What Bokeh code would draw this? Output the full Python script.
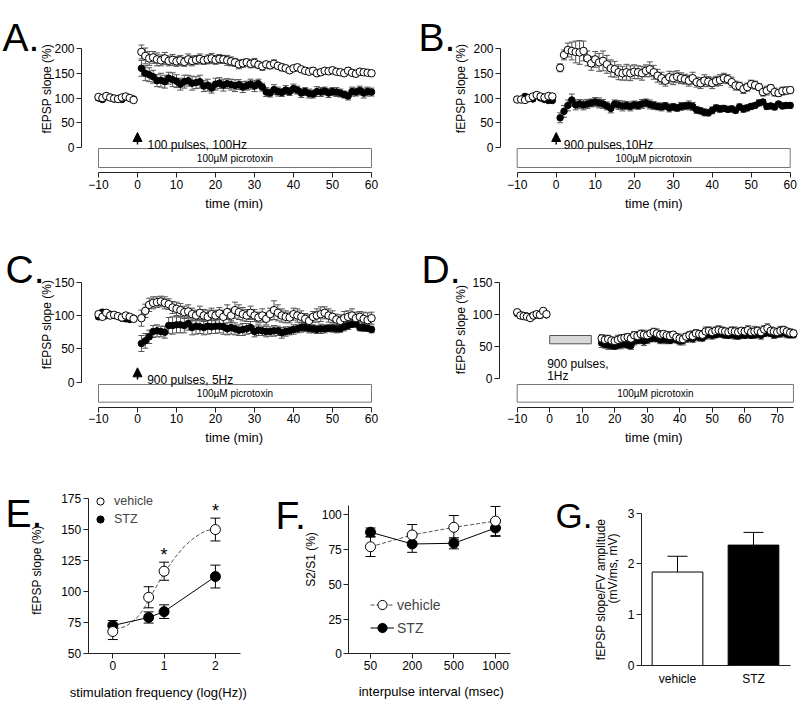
from bokeh.plotting import figure
from bokeh.layouts import column, row
from bokeh.models import (ColumnDataSource, Whisker, TeeHead, BoxAnnotation, Arrow,
                          NormalHead, Label, Legend, LegendItem, FixedTicker, Range1d)
from bokeh.core.properties import value
from bokeh.embed import file_html
from bokeh.resources import INLINE

FONT = "Liberation Sans"
AX = "#222222"
ERR = "#555555"

# ---------------- data ----------------
TC_time = list(range(-10, 0)) + list(range(1, 61))
D_time = list(range(-10, 0)) + list(range(16, 76))

A_veh = [102, 100, 104, 101, 99, 98, 101, 103, 100, 96,
         193, 185, 180, 182, 178, 176, 180, 175, 177, 174,
         176, 173, 178, 175, 177, 179, 176, 178, 180, 177,
         179, 178, 176, 174, 172, 168, 170, 172, 169, 171,
         167, 164, 168, 166, 169, 165, 162, 160, 156, 160,
         162, 158, 155, 153, 155, 150, 152, 155, 154, 156,
         153, 152, 150, 155, 151, 149, 153, 152, 151, 150]
A_veh_err = [4, 3, 4, 3, 3, 4, 3, 4, 3, 4,
             14, 16, 14, 12, 13, 11, 12, 10, 11, 10,
             10, 9, 11, 10, 9, 10, 8, 9, 10, 9,
             9, 8, 10, 9, 8, 9, 8, 7, 8, 9,
             7, 8, 6, 7, 8, 6, 7, 6, 5, 6,
             6, 5, 6, 5, 6, 5, 6, 5, 5, 6,
             5, 6, 5, 6, 5, 6, 5, 6, 5, 5]
A_stz = [100, 97, 103, 101, 98, 99, 97, 102, 100, 98,
         160, 150, 147, 143, 135, 136, 133, 140, 137, 134,
         128, 133, 135, 130, 131, 133, 124, 126, 120, 128,
         130, 126, 129, 127, 125, 127, 122, 125, 128, 124,
         129, 122, 112, 110, 117, 113, 111, 116, 113, 119,
         116, 110, 113, 109, 108, 113, 112, 114, 110, 113,
         112, 110, 107, 104, 113, 112, 115, 110, 113, 112]
A_stz_err = [5, 4, 4, 3, 4, 3, 4, 3, 4, 3,
             16, 15, 14, 13, 12, 14, 13, 12, 14, 13,
             12, 13, 11, 14, 12, 13, 11, 12, 10, 12,
             11, 12, 10, 11, 12, 10, 11, 9, 10, 11,
             9, 8, 9, 8, 10, 9, 8, 9, 8, 9,
             8, 9, 8, 9, 8, 10, 9, 8, 9, 8,
             9, 8, 7, 8, 9, 8, 9, 10, 9, 8]

B_veh = [97, 97, 96, 100, 103, 106, 103, 101, 104, 103,
         161, 187, 197, 195, 193, 192, 195, 180, 170, 178,
         172, 175, 168, 160, 158, 152, 150, 152, 150, 153,
         152, 150, 155, 158, 152, 145, 140, 135, 142, 140,
         143, 140, 138, 135, 140, 132, 130, 135, 133, 130,
         134, 136, 140, 138, 132, 125, 124, 118, 122, 128,
         126, 122, 112, 115, 120, 112, 110, 114, 115, 116]
B_veh_err = [5, 4, 5, 4, 4, 5, 4, 5, 4, 5,
             8, 10, 14, 18, 22, 24, 20, 15, 14, 16,
             18, 20, 18, 17, 16, 15, 14, 16, 15, 14,
             13, 14, 12, 15, 14, 13, 12, 11, 12, 13,
             12, 11, 10, 11, 12, 10, 11, 12, 10, 11,
             10, 11, 10, 9, 10, 9, 8, 9, 8, 8,
             8, 7, 8, 9, 7, 8, 7, 8, 7, 6]
B_stz = [97, 97, 103, 100, 98, 106, 100, 97, 95, 95,
         60, 73, 85, 96, 86, 88, 86, 88, 90, 92,
         90, 88, 84, 79, 88, 86, 84, 85, 83, 86,
         85, 88, 90, 87, 85, 83, 82, 84, 80, 82,
         80, 83, 84, 85, 83, 76, 74, 71, 70, 75,
         80, 78, 79, 77, 78, 75, 82, 78, 80, 83,
         85, 90, 92, 83, 84, 82, 88, 84, 85, 85]
B_stz_err = [4, 4, 5, 4, 4, 5, 4, 3, 3, 3,
             10, 12, 11, 12, 10, 9, 10, 9, 8, 9,
             10, 9, 8, 9, 8, 9, 10, 8, 9, 8,
             8, 9, 8, 9, 8, 7, 8, 7, 8, 7,
             7, 8, 7, 9, 8, 7, 6, 7, 6, 7,
             6, 7, 6, 5, 6, 5, 6, 7, 6, 6,
             5, 6, 5, 6, 5, 6, 5, 6, 5, 5]

C_veh = [102, 98, 104, 100, 101, 99, 97, 100, 98, 95,
         96, 107, 116, 119, 120, 121, 119, 117, 112, 110,
         108, 105, 106, 102, 100, 104, 100, 98, 102, 100,
         103, 98, 105, 100, 108, 105, 102, 100, 104, 100,
         97, 100, 95, 102, 108, 104, 100, 98, 97, 102,
         100, 98, 95, 92, 98, 100, 102, 104, 100, 98,
         94, 92, 96, 98, 100, 96, 98, 95, 93, 96]
C_veh_err = [3, 4, 3, 4, 3, 3, 4, 3, 3, 3,
             12, 10, 10, 9, 8, 8, 9, 8, 9, 10,
             10, 9, 10, 9, 8, 10, 9, 10, 9, 8,
             9, 10, 11, 10, 12, 11, 10, 9, 10, 9,
             8, 10, 9, 9, 14, 12, 10, 9, 8, 9,
             10, 9, 8, 9, 8, 10, 11, 9, 10, 9,
             8, 9, 10, 9, 10, 9, 8, 10, 11, 9]
C_stz = [98, 105, 100, 102, 100, 99, 96, 95, 94, 96,
         58, 62, 68, 76, 77, 76, 75, 85, 85, 86,
         86, 85, 88, 82, 84, 83, 82, 84, 83, 84,
         84, 83, 80, 82, 80, 78, 79, 80, 82, 76,
         78, 77, 76, 76, 77, 77, 74, 76, 77, 79,
         80, 82, 82, 81, 80, 79, 80, 80, 81, 81,
         80, 80, 83, 85, 87, 88, 82, 82, 81, 79]
C_stz_err = [3, 4, 3, 3, 4, 3, 3, 4, 3, 3,
             12, 11, 10, 9, 9, 8, 9, 12, 13, 12,
             12, 11, 10, 11, 12, 10, 11, 12, 10, 11,
             10, 11, 9, 10, 9, 8, 9, 8, 9, 8,
             8, 7, 8, 7, 8, 7, 8, 7, 6, 7,
             6, 7, 6, 7, 6, 6, 7, 6, 5, 6,
             6, 5, 6, 6, 5, 6, 5, 6, 5, 5]

D_veh = [103, 98, 97, 96, 94, 98, 100, 99, 105, 100,
         62, 60, 61, 59, 58, 60, 62, 63, 64, 62,
         67, 66, 69, 68, 67, 70, 72, 70, 68, 69,
         67, 66, 68, 64, 62, 61, 65, 67, 66, 70,
         69, 68, 73, 74, 72, 74, 75, 74, 73, 72,
         74, 73, 72, 74, 73, 75, 72, 73, 74, 72,
         76, 78, 74, 73, 72, 74, 75, 73, 71, 70]
D_veh_err = [3, 3, 4, 3, 3, 4, 3, 3, 4, 3,
             6, 7, 6, 5, 6, 7, 6, 5, 6, 7,
             6, 5, 6, 7, 6, 5, 6, 7, 6, 5,
             6, 7, 5, 6, 7, 6, 5, 6, 8, 6,
             5, 6, 7, 6, 5, 6, 7, 6, 5, 6,
             6, 7, 6, 5, 6, 7, 6, 8, 6, 5,
             6, 7, 6, 5, 6, 7, 6, 5, 6, 5]
D_stz = [101, 99, 98, 97, 96, 97, 100, 98, 102, 99,
         55, 53, 52, 51, 50, 52, 53, 54, 52, 51,
         58, 59, 60, 58, 60, 62, 63, 62, 60, 61,
         60, 59, 62, 60, 58, 59, 62, 63, 62, 65,
         64, 63, 67, 68, 67, 68, 70, 69, 68, 67,
         68, 67, 66, 68, 67, 69, 67, 68, 69, 67,
         70, 72, 70, 68, 69, 70, 71, 69, 68, 68]
D_stz_err = [3, 4, 3, 3, 4, 3, 3, 4, 3, 3,
             7, 6, 7, 6, 5, 6, 7, 6, 5, 6,
             6, 5, 6, 7, 6, 5, 6, 5, 6, 7,
             6, 5, 6, 5, 6, 7, 6, 5, 6, 5,
             6, 5, 6, 5, 6, 5, 6, 5, 6, 5,
             5, 6, 5, 6, 5, 6, 5, 6, 5, 6,
             5, 6, 5, 6, 5, 6, 5, 6, 5, 5]

E_x = [0, 0.699, 1, 2]
E_veh = [68, 95.6, 116.6, 150.2]
E_veh_err = [6.5, 8.5, 7.3, 9.2]
E_stz = [72.8, 79.3, 84, 112.3]
E_stz_err = [4, 4.5, 5.5, 9.2]
E_fit_x = [0.05, 0.25, 0.45, 0.6, 0.75, 0.9, 1.05, 1.2, 1.4, 1.6, 1.8, 2.0]
E_fit_y = [70, 72, 78, 86, 97, 108, 118, 127, 137, 144, 149, 151]
E_star_x = [1, 2]
E_star_y = [129.5, 165.5]

F_labels = ["50", "200", "500", "1000"]
F_veh = [77, 85.5, 91, 95.5]
F_veh_err = [7, 7.5, 8.5, 10.5]
F_stz = [87.5, 79, 79.5, 90.5]
F_stz_err = [3, 6, 4, 6]

G_labels = ["vehicle", "STZ"]
G_vals = [1.84, 2.37]
G_err = [0.31, 0.25]
G_colors = ["white", "black"]


# ---------------- layout geometry (page pixels) ----------------
class Geo:
    """Canvas box on the page and the pixel scale of its data axes."""
    def __init__(self, left, top, w, h, xref, xpage, xscale, yref, ypage, yscale):
        self.left, self.top, self.w, self.h = left, top, w, h
        self.xref, self.xpage, self.xs = xref, xpage, xscale
        self.yref, self.ypage, self.ys = yref, ypage, yscale

    def x(self, px):
        return self.xref + (px - self.xpage) / self.xs

    def y(self, py):
        return self.yref + (self.ypage - py) / self.ys

    def xr(self):
        return (self.x(self.left), self.x(self.left + self.w))

    def yr(self):
        return (self.y(self.top + self.h), self.y(self.top))


def make_fig(g, yaxis_px, xaxis_px):
    xr, yr = g.xr(), g.yr()
    p = figure(width=g.w, height=g.h, x_range=Range1d(*xr), y_range=Range1d(*yr),
               output_backend="svg", toolbar_location=None,
               min_border_left=0, min_border_right=0, min_border_top=0, min_border_bottom=0)
    p.outline_line_color = None
    p.xgrid.grid_line_color = None
    p.ygrid.grid_line_color = None
    p.yaxis.fixed_location = g.x(yaxis_px)
    p.xaxis.fixed_location = g.y(xaxis_px)
    for ax in (p.xaxis[0], p.yaxis[0]):
        ax.axis_line_color = AX
        ax.major_tick_line_color = AX
        ax.minor_tick_line_color = None
        ax.major_tick_in = 0
        ax.major_tick_out = 5
        ax.major_label_standoff = 2
        ax.major_label_text_font = FONT
        ax.major_label_text_font_size = "12px"
        ax.major_label_text_font_style = "normal"
        ax.major_label_text_color = "black"
    return p


def add_text(p, g, text, px, py, size="12px", angle=0, align="left", baseline="alphabetic"):
    p.add_layout(Label(x=g.x(px), y=g.y(py), text=text, text_font=FONT,
                       text_font_size=size, text_font_style="normal",
                       angle=angle, angle_units="deg",
                       text_align=align, text_baseline=baseline, text_color="black"))


def err_src(x, vals, errs):
    return ColumnDataSource(dict(x=x, y=vals,
                                 lo=[v - e for v, e in zip(vals, errs)],
                                 hi=[v + e for v, e in zip(vals, errs)]))


def add_whisker(p, src, color, head, both=True):
    p.add_layout(Whisker(source=src, base="x", lower="lo" if both else "y", upper="hi",
                         line_color=color, line_width=1,
                         lower_head=TeeHead(size=head, line_color=color, line_width=1) if both else None,
                         upper_head=TeeHead(size=head, line_color=color, line_width=1)))


def timecourse(g, yaxis_px, xaxis_px, xb, yb, xticks, yticks, t, veh, veh_err, stz, stz_err):
    p = make_fig(g, yaxis_px, xaxis_px)
    p.xaxis.bounds = xb
    p.yaxis.bounds = yb
    p.xaxis.ticker = FixedTicker(ticks=xticks)
    p.yaxis.ticker = FixedTicker(ticks=yticks)
    s_src = err_src(t, stz, stz_err)
    v_src = err_src(t, veh, veh_err)
    add_whisker(p, s_src, ERR, 6)
    add_whisker(p, v_src, ERR, 6)
    p.scatter("x", "y", source=s_src, size=6.5, fill_color="black", line_color="black")
    p.scatter("x", "y", source=v_src, size=7.5, fill_color="white", line_color="black", line_width=1)
    return p


def picro(p, g, left, right, top_px, bottom_px):
    bottom, top = g.y(bottom_px), g.y(top_px)
    p.add_layout(BoxAnnotation(left=left, right=right, bottom=bottom, top=top,
                               fill_color="white", fill_alpha=1.0,
                               line_color="#777777", line_width=1, line_alpha=1.0))
    p.add_layout(Label(x=(left + right) / 2, y=(bottom + top) / 2, text="100\u00b5M picrotoxin",
                       text_font=FONT, text_font_size="10px", text_font_style="normal",
                       text_align="center", text_baseline="middle", text_color="black"))


def stim_arrow(p, g, base_px, tip_px):
    p.add_layout(Arrow(end=NormalHead(size=9, fill_color="black", line_color="black"),
                       x_start=0, y_start=g.y(base_px), x_end=0, y_end=g.y(tip_px),
                       line_color="black", line_width=1.5))


TC_XTICKS = list(range(-10, 61, 10))

# ---------------- Panel A ----------------
gA = Geo(0, 0, 400, 235, -10, 98, 3.9, 0, 147, 0.495)
pA = timecourse(gA, 81, 172, (-10, 60), (0, 200), TC_XTICKS, [0, 50, 100, 150, 200],
                TC_time, A_veh, A_veh_err, A_stz, A_stz_err)
picro(pA, gA, -10, 60, 148, 167)
stim_arrow(pA, gA, 144, 132)
add_text(pA, gA, "100 pulses, 100Hz", 147, 144)
add_text(pA, gA, "A.", 2, 36.7, size="39px")
add_text(pA, gA, "fEPSP slope (%)", 46.7, 88.3, angle=90, align="center", baseline="middle")
add_text(pA, gA, "time (min)", 233.7, 202.5, size="13px", align="center", baseline="middle")

# ---------------- Panel B ----------------
gB = Geo(400, 0, 400, 235, -10, 516.7, 3.9, 0, 147, 0.495)
pB = timecourse(gB, 500, 172, (-10, 60), (0, 200), TC_XTICKS, [0, 50, 100, 150, 200],
                TC_time, B_veh, B_veh_err, B_stz, B_stz_err)
picro(pB, gB, -10, 60, 148, 167)
stim_arrow(pB, gB, 144, 132)
add_text(pB, gB, "900 pulses,10Hz", 563.3, 144)
add_text(pB, gB, "B.", 418, 37, size="39px")
add_text(pB, gB, "fEPSP slope (%)", 460, 88, angle=90, align="center", baseline="middle")
add_text(pB, gB, "time (min)", 653.3, 202.5, size="13px", align="center", baseline="middle")

# ---------------- Panel C ----------------
gC = Geo(0, 235, 400, 235, -10, 98, 3.9, 0, 381.7, 0.667)
pC = timecourse(gC, 81, 406.7, (-10, 60), (0, 150), TC_XTICKS, [0, 50, 100, 150],
                TC_time, C_veh, C_veh_err, C_stz, C_stz_err)
picro(pC, gC, -10, 60, 384, 401.7)
stim_arrow(pC, gC, 379, 367.3)
add_text(pC, gC, "900 pulses, 5Hz", 146.7, 379)
add_text(pC, gC, "C.", 5, 269, size="39px")
add_text(pC, gC, "fEPSP slope (%)", 46.7, 324, angle=90, align="center", baseline="middle")
add_text(pC, gC, "time (min)", 233.7, 437, size="13px", align="center", baseline="middle")

# ---------------- Panel D ----------------
gD = Geo(400, 235, 400, 235, -10, 516.7, 3.25, 0, 377.7, 0.64)
pD = timecourse(gD, 499, 406.7, (-10, 75), (0, 150), list(range(-10, 71, 10)), [0, 50, 100, 150],
                D_time, D_veh, D_veh_err, D_stz, D_stz_err)
picro(pD, gD, -10, 75, 384, 401.7)
pD.add_layout(BoxAnnotation(left=0, right=12.8, bottom=gD.y(343.3), top=gD.y(335),
                            fill_color="#d9d9d9", fill_alpha=1.0, line_color="#555555",
                            line_width=1, line_alpha=1.0))
add_text(pD, gD, "900 pulses,", 546.7, 363.3)
add_text(pD, gD, "1Hz", 546.7, 375)
add_text(pD, gD, "D.", 421, 269, size="39px")
add_text(pD, gD, "fEPSP slope (%)", 460, 329, angle=90, align="center", baseline="middle")
add_text(pD, gD, "time (min)", 653.3, 437, size="13px", align="center", baseline="middle")

# ---------------- Panel E ----------------
gE = Geo(0, 470, 260, 234, 0, 112.3, 51.3, 50, 653.3, 1.24)
pE = make_fig(gE, 87.7, 653.3)
pE.xaxis.bounds = (gE.x(87.7), gE.x(240))
pE.yaxis.bounds = (50, 175)
pE.xaxis.ticker = FixedTicker(ticks=[0, 1, 2])
pE.yaxis.ticker = FixedTicker(ticks=[50, 75, 100, 125, 150, 175])
eS = err_src(E_x, E_stz, E_stz_err)
eV = err_src(E_x, E_veh, E_veh_err)
add_whisker(pE, eS, "black", 10)
add_whisker(pE, eV, "black", 10)
pE.line(E_fit_x, E_fit_y, line_color="#555555", line_dash="4 2", line_width=1)
pE.line("x", "y", source=eS, line_color="black", line_width=1)
rEs = pE.scatter("x", "y", source=eS, size=10, fill_color="black", line_color="black")
rEv = pE.scatter("x", "y", source=eV, size=10, fill_color="white", line_color="black", line_width=1)
pE.text(E_star_x, E_star_y, text=["*"] * len(E_star_x), text_font=value(FONT), text_font_size="18px",
        text_align="center", text_baseline="alphabetic", text_color="black")
legE = Legend(items=[LegendItem(label="vehicle", renderers=[rEv]), LegendItem(label="STZ", renderers=[rEs])],
              location=(90 - gE.left, gE.top + gE.h - 528.3), glyph_width=20, glyph_height=18,
              label_height=18, spacing=0, padding=0, margin=0, label_standoff=4,
              label_text_font=FONT, label_text_font_size="12.5px", label_text_font_style="normal",
              border_line_color=None, background_fill_alpha=0)
pE.add_layout(legE)
add_text(pE, gE, "E.", 5, 513, size="39px")
add_text(pE, gE, "fEPSP slope  (%)", 36, 568, angle=90, align="center", baseline="middle")
add_text(pE, gE, "stimulation frequency (log(Hz))", 157.8, 692, size="13px", align="center", baseline="middle")

# ---------------- Panel F ----------------
gF = Geo(260, 470, 280, 234, 0, 370, 41.67, 0, 653.3, 1.39)
pF = make_fig(gF, 348.3, 653.3)
fX = list(range(len(F_labels)))
pF.xaxis.bounds = (gF.x(348.3), gF.x(510))
pF.yaxis.bounds = (0, gF.y(505))
pF.xaxis.ticker = FixedTicker(ticks=fX)
pF.xaxis.major_label_overrides = {i: lab for i, lab in enumerate(F_labels)}
pF.yaxis.ticker = FixedTicker(ticks=[0, 25, 50, 75, 100])
fS = err_src(fX, F_stz, F_stz_err)
fV = err_src(fX, F_veh, F_veh_err)
add_whisker(pF, fS, "black", 10)
add_whisker(pF, fV, "black", 10)
rFvl = pF.line("x", "y", source=fV, line_color="#555555", line_dash="4 2", line_width=1)
rFsl = pF.line("x", "y", source=fS, line_color="black", line_width=1)
rFs = pF.scatter("x", "y", source=fS, size=10, fill_color="black", line_color="black")
rFv = pF.scatter("x", "y", source=fV, size=10, fill_color="white", line_color="black", line_width=1)
legF = Legend(items=[LegendItem(label="vehicle", renderers=[rFvl, rFv]),
                     LegendItem(label="STZ", renderers=[rFsl, rFs])],
              location=(370 - gF.left, gF.top + gF.h - 639.2), glyph_width=24, glyph_height=23,
              label_height=23, spacing=0, padding=0, margin=0, label_standoff=3,
              label_text_font=FONT, label_text_font_size="14px", label_text_font_style="normal",
              border_line_color=None, background_fill_alpha=0)
pF.add_layout(legF)
add_text(pF, gF, "F.", 275, 515, size="39px")
add_text(pF, gF, "S2/S1 (%)", 310, 559, angle=90, align="center", baseline="middle")
add_text(pF, gF, "interpulse interval (msec)", 430.8, 691, size="13px", align="center", baseline="middle")

# ---------------- Panel G ----------------
gG = Geo(540, 470, 260, 234, 0, 677, 76, 0, 665, 50.8)
pG = make_fig(gG, 641, 665)
gX = list(range(len(G_labels)))
pG.xaxis.bounds = (gG.x(641), gG.x(790))
pG.yaxis.bounds = (0, 3)
pG.xaxis.ticker = FixedTicker(ticks=gX)
pG.xaxis.major_label_overrides = {i: lab for i, lab in enumerate(G_labels)}
pG.xaxis.major_tick_out = 0
pG.xaxis.major_label_standoff = 6
pG.yaxis.ticker = FixedTicker(ticks=[0, 1, 2, 3])
gSrc = err_src(gX, G_vals, G_err)
gSrc.data["color"] = G_colors
add_whisker(pG, gSrc, "black", 20, both=False)
pG.vbar(x="x", top="y", source=gSrc, width=50.7 / 76, fill_color="color", line_color="black", line_width=1)
add_text(pG, gG, "G.", 555, 515, size="35px")
add_text(pG, gG, "fEPSP slope/FV amplitude", 600, 589, angle=90, align="center", baseline="middle")
add_text(pG, gG, "(mV/ms, mV)", 612.7, 568, angle=90, align="center", baseline="middle")

layout = column(row(pA, pB), row(pC, pD), row(pE, pF, pG))

with open("out.html", "w") as f:
    f.write(file_html(layout, INLINE))
